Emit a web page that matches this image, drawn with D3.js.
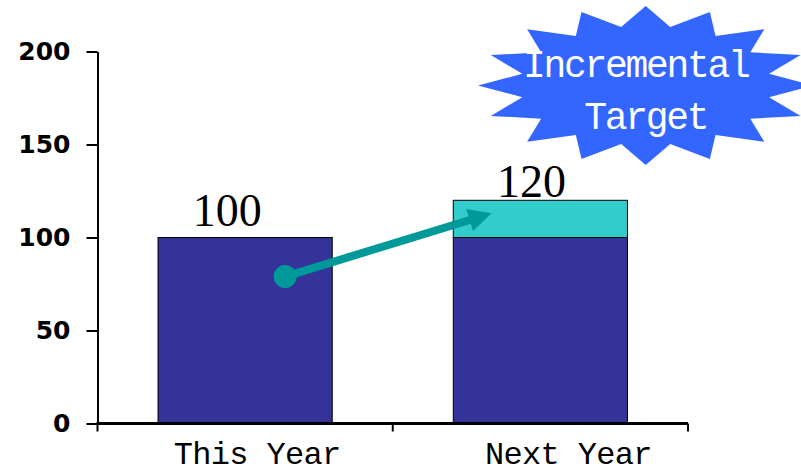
<!DOCTYPE html>
<html>
<head>
<meta charset="utf-8">
<script src="https://cdn.jsdelivr.net/npm/d3@7"></script>
<style>
  body { margin: 0; background: #fff; }
  svg { display: block; }
</style>
</head>
<body>
<div class="container"></div>
<script>
const categories = ['This Year', 'Next Year'];
const baseValues = [100, 100];
const increments = [0, 20];
const totals = [100, 120];
const yTicks = [0, 50, 100, 150, 200];
// arrow: from value on first bar to value on second bar
const arrowFrom = 79, arrowTo = 113;
const badgeLines = ['Incremental', 'Target'];

const width = 801, height = 474;
const margin = {left: 97.5, right: 113, top: 51.5, bottom: 50.5};

const svg = d3.select('.container')
  .append('svg')
  .attr('width', width)
  .attr('height', height);

let x = d3.scaleBand().domain(categories).range([margin.left, width - margin.right]).padding(0);
let y = d3.scaleLinear().domain([0, 200]).range([height - margin.bottom, margin.top]);
const barW = x.bandwidth() * 0.59;
const barX = c => x(c) + (x.bandwidth() - barW) / 2;

// Bars (base + increment)
svg.selectAll('rect.base')
  .data(categories)
  .enter().append('rect')
    .attr('class', 'base')
    .attr('x', d => barX(d))
    .attr('y', (d, i) => y(baseValues[i]))
    .attr('width', barW)
    .attr('height', (d, i) => y(0) - y(baseValues[i]))
    .style('fill', '#333399')
    .style('stroke', '#000')
    .style('stroke-width', 1);

svg.selectAll('rect.inc')
  .data(categories.filter((d, i) => increments[i] > 0))
  .enter().append('rect')
    .attr('class', 'inc')
    .attr('x', d => barX(d))
    .attr('y', d => y(totals[categories.indexOf(d)]))
    .attr('width', barW)
    .attr('height', d => { let i = categories.indexOf(d); return y(baseValues[i]) - y(totals[i]); })
    .style('fill', '#33CCCC')
    .style('stroke', '#000')
    .style('stroke-width', 1);

// Value labels
const nudge = [[-18, -12], [-9, -3]];
svg.selectAll('text.val')
  .data(categories)
  .enter().append('text')
    .attr('class', 'val')
    .attr('x', (d, i) => barX(d) + barW / 2 + nudge[i][0])
    .attr('y', (d, i) => y(totals[i]) + nudge[i][1])
    .attr('text-anchor', 'middle')
    .style('font-family', '"Liberation Serif", serif')
    .style('font-size', '46px')
    .text((d, i) => totals[i]);

// Y axis
let yAxis = d3.axisLeft(y).tickValues(yTicks).tickSize(11).tickSizeOuter(0).tickPadding(16);
let gy = svg.append('g')
  .attr('transform', 'translate(' + margin.left + ',0)')
  .call(yAxis);
gy.select('.domain').attr('stroke', '#000').attr('stroke-width', 2);
gy.selectAll('.tick line').attr('stroke', '#000').attr('stroke-width', 2);
gy.selectAll('.tick text')
  .style('font-family', '"DejaVu Sans", sans-serif')
  .style('font-weight', 'bold')
  .style('font-size', '25px')
  .attr('fill', '#000');

// X axis
let gx = svg.append('g');
gx.append('line')
  .attr('x1', x.range()[0] - 1).attr('x2', x.range()[1])
  .attr('y1', y(0)).attr('y2', y(0))
  .attr('stroke', '#000').attr('stroke-width', 3);
const bounds = categories.map(c => x(c)).concat([x.range()[1]]);
gx.selectAll('line.tk')
  .data(bounds)
  .enter().append('line')
    .attr('class', 'tk')
    .attr('x1', d => d).attr('x2', d => d)
    .attr('y1', y(0)).attr('y2', y(0) + 8)
    .attr('stroke', '#000').attr('stroke-width', 2);
const catNudge = [12, 28];
gx.selectAll('text.cat')
  .data(categories)
  .enter().append('text')
    .attr('class', 'cat')
    .attr('x', (d, i) => x(d) + x.bandwidth() / 2 + catNudge[i])
    .attr('y', y(0) + 40.5)
    .attr('text-anchor', 'middle')
    .style('font-family', '"Liberation Mono", monospace')
    .style('font-size', '32px')
    .style('letter-spacing', '-0.7px')
    .text(d => d);

// Arrow
const ax0 = barX(categories[0]) + barW * 0.73, ay0 = y(arrowFrom);
const ax1 = barX(categories[1]) + barW * 0.22, ay1 = y(arrowTo);
const ang = Math.atan2(ay1 - ay0, ax1 - ax0);
const headL = 23, headW = 23;
const bx = ax1 - headL * Math.cos(ang), by = ay1 - headL * Math.sin(ang);
const teal = '#009999';
svg.append('line')
  .attr('x1', ax0).attr('y1', ay0)
  .attr('x2', bx + 2 * Math.cos(ang)).attr('y2', by + 2 * Math.sin(ang))
  .attr('stroke', teal).attr('stroke-width', 8);
svg.append('polygon')
  .attr('points', [
    [ax1, ay1],
    [bx + headW / 2 * Math.sin(ang), by - headW / 2 * Math.cos(ang)],
    [bx - headW / 2 * Math.sin(ang), by + headW / 2 * Math.cos(ang)]
  ].map(p => p.join(',')).join(' '))
  .attr('fill', teal);
svg.append('circle')
  .attr('cx', ax0).attr('cy', ay0).attr('r', 11.5)
  .attr('fill', teal);

// Starburst badge
const cx = 645.7, cy = 85.5, rx = 167.7, ry = 79.5, inner = 0.75;
const pts = [];
for (let k = 0; k < 32; k++) {
  let a = k * Math.PI / 16;
  let r = k % 2 === 0 ? 1 : inner;
  pts.push([cx + rx * r * Math.cos(a), cy - ry * r * Math.sin(a)]);
}
svg.append('polygon')
  .attr('points', pts.map(p => p.join(',')).join(' '))
  .attr('fill', '#3366FF');
svg.selectAll('text.badge')
  .data(badgeLines)
  .enter().append('text')
    .attr('class', 'badge')
    .attr('x', (d, i) => cx + (i === 0 ? -10 : 0))
    .attr('y', (d, i) => 77 + i * 52)
    .attr('text-anchor', 'middle')
    .style('font-family', '"Liberation Mono", monospace')
    .style('font-size', '38px')
    .style('letter-spacing', '-2.3px')
    .attr('fill', '#fff')
    .text(d => d);
</script>
</body>
</html>
